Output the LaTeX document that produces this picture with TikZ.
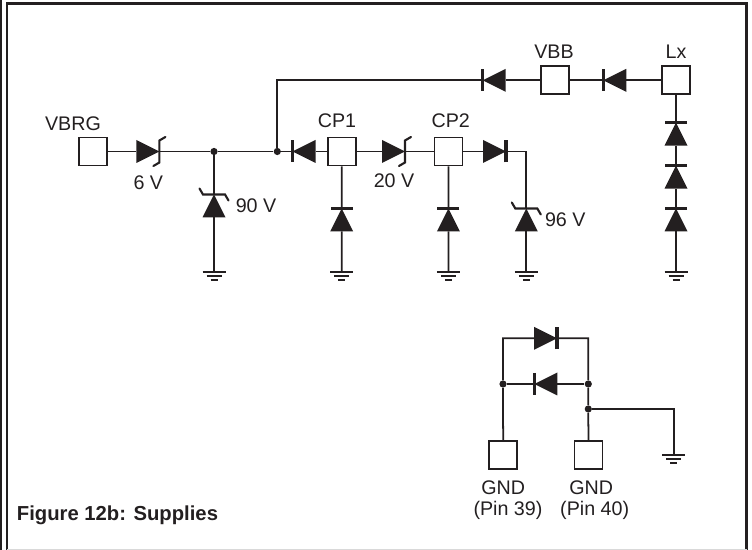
\documentclass[tikz,border=0pt]{standalone}
\usepackage{fontspec}
\setmainfont{Liberation Sans}
\definecolor{ink}{HTML}{231F20}
\tikzset{
    wire/.style={color=ink, line width=1.25pt},
    pad/.style={draw=ink, line width=1.4pt, fill=white, rectangle, inner sep=0pt, minimum size=0.7cm},
    dot/.style={fill=ink, circle, inner sep=0pt, minimum size=0.18cm},
    lbl/.style={color=ink, font=\fontsize{14}{17}\selectfont, anchor=base, inner sep=0pt},
    diode/.pic={
        \fill[ink] (-11.5,-11.5) -- (11.5,0) -- (-11.5,11.5) -- cycle;
        \draw[ink, line width=2.5pt] (11.5,-11) -- (11.5,11);
        \coordinate (-a) at (-11.5,0);
        \coordinate (-k) at (11.5,0);
    },
    zener/.pic={
        \fill[ink] (-11.5,-11.5) -- (11.5,0) -- (-11.5,11.5) -- cycle;
        \draw[ink, line width=1.5pt, line cap=round] (5.5,-14.5) -- (11.5,-11) -- (11.5,11) -- (17.5,14.5);
        \coordinate (-a) at (-11.5,0);
        \coordinate (-k) at (11.5,0);
    },
    ground/.pic={
        \draw[ink, line width=1.3pt] (-11.5,0) -- (11.5,0);
        \draw[ink, line width=1.3pt] (-7.5,-4) -- (7.5,-4);
        \draw[ink, line width=1.3pt] (-3.5,-8) -- (3.5,-8);
        \coordinate (-t) at (0,0);
    },
}

\begin{document}
\begin{tikzpicture}[x=0.025cm, y=0.025cm]
    \useasboundingbox (0,0) rectangle (752,550);
    % frame
    \draw[ink, line width=1.5pt] (1,0) -- (1,550);
    \draw[ink, line width=1.5pt] (6.8,0) -- (6.8,546.5) -- (746.5,546.5) -- (746.5,0);
    \draw[black!15, line width=0.7pt] (6.8,0.7) -- (746.5,0.7);

    % pads
    \node[pad] (VBRG) at (93,398.5) {};
    \node[pad] (CPone) at (341.8,398.5) {};
    \node[pad] (CPtwo) at (448.5,398.5) {};
    \node[pad] (VBB) at (555.3,469.7) {};
    \node[pad] (Lx) at (676,469.7) {};
    \node[pad] (GNDa) at (503.2,95.2) {};
    \node[pad] (GNDb) at (588.5,95.2) {};

    % junctions
    \node[dot] (jOne) at (214,398.5) {};
    \node[dot] (jTwo) at (277.3,398.5) {};
    \node[dot] (jThree) at (503,166) {};
    \node[dot] (jFour) at (588.3,166) {};
    \node[dot] (jFive) at (588.3,141) {};
    \coordinate (cTop) at (277.3,469.7);
    \coordinate (cBend) at (526.3,398.5);
    \coordinate (cLeft) at (503,211.7);
    \coordinate (cRight) at (588.3,211.7);
    \coordinate (cGnd) at (673.7,141);

    % diodes
    \pic (dzSix) at (147.9,398.5) {zener};
    \pic[rotate=90] (dzNinety) at (214,344) {zener};
    \pic[rotate=180] (dA) at (304,398.5) {diode};
    \pic[rotate=90] (dB) at (341.7,330) {diode};
    \pic (dzTwenty) at (393.5,398.5) {zener};
    \pic[rotate=90] (dC) at (448.4,330) {diode};
    \pic (dD) at (494.5,398.5) {diode};
    \pic[rotate=90] (dzNinetySix) at (526.3,330) {zener};
    \pic[rotate=180] (dE) at (494.2,469.7) {diode};
    \pic[rotate=180] (dF) at (614.8,469.7) {diode};
    \pic[rotate=90] (dG) at (676,415.8) {diode};
    \pic[rotate=90] (dH) at (676,372.8) {diode};
    \pic[rotate=90] (dI) at (676,330) {diode};
    \pic (dJ) at (545.5,211.7) {diode};
    \pic[rotate=180] (dK) at (545.8,166) {diode};

    % grounds
    \pic (gA) at (214,278.3) {ground};
    \pic (gB) at (341.7,278.3) {ground};
    \pic (gC) at (448.4,278.3) {ground};
    \pic (gD) at (526.3,278.3) {ground};
    \pic (gE) at (676,278.3) {ground};
    \pic (gF) at (673.7,95.3) {ground};

    % wires
    \draw[wire] (VBRG) -- (dzSix-a) (dzSix-k) -- (jOne) -- (jTwo) -- (dA-k) (dA-a) -- (CPone);
    \draw[wire] (jOne) -- (dzNinety-k) (dzNinety-a) -- (gA-t);
    \draw[wire] (CPone) -- (dB-k) (dB-a) -- (gB-t);
    \draw[wire] (CPone) -- (dzTwenty-a) (dzTwenty-k) -- (CPtwo);
    \draw[wire] (CPtwo) -- (dC-k) (dC-a) -- (gC-t);
    \draw[wire] (CPtwo) -- (dD-a) (dD-k) -- (cBend) -- (dzNinetySix-k) (dzNinetySix-a) -- (gD-t);
    \draw[wire] (jTwo) -- (cTop) -- (dE-k) (dE-a) -- (VBB) -- (dF-k) (dF-a) -- (Lx);
    \draw[wire] (Lx) -- (dG-k) (dG-a) -- (dH-k) (dH-a) -- (dI-k) (dI-a) -- (gE-t);
    \draw[wire] (GNDa) -- (jThree) -- (cLeft) -- (dJ-a) (dJ-k) -- (cRight) -- (jFour) -- (jFive) -- (GNDb);
    \draw[wire] (jThree) -- (dK-k) (dK-a) -- (jFour);
    \draw[wire] (jFive) -- (cGnd) -- (gF-t);

    % labels
    \node[lbl] (tVBRG) at (73,419) {VBRG};
    \node[lbl] (tCPone) at (337,422) {CP1};
    \node[lbl] (tCPtwo) at (450.7,422.7) {CP2};
    \node[lbl] (tVBB) at (554,491.7) {VBB};
    \node[lbl] (tLx) at (676,491.7) {Lx};
    \node[lbl] (tSix) at (148.3,360) {6 V};
    \node[lbl] (tNinety) at (256,337.7) {90 V};
    \node[lbl] (tTwenty) at (394,362.3) {20 V};
    \node[lbl] (tNinetySix) at (565.3,323.3) {96 V};
    \node[lbl] (tGNDa) at (503.3,55) {GND};
    \node[lbl] (tPinA) at (508,34.3) {(Pin 39)};
    \node[lbl] (tGNDb) at (591.3,55) {GND};
    \node[lbl] (tPinB) at (594.7,34.3) {(Pin 40)};
    \node[lbl, anchor=base west, font=\fontsize{14.4}{17}\selectfont\bfseries] (tFig) at (16.7,29.3) {Figure 12b: Supplies};
\end{tikzpicture}
\end{document}
